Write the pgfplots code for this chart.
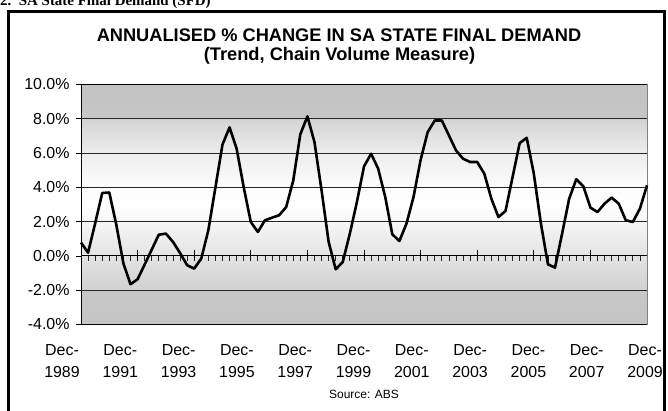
\documentclass[border=0pt]{standalone}
\usepackage{fontspec}
\setmainfont{Liberation Sans}
\newfontfamily\serifb{Liberation Serif}
\usepackage{pgfplots}
\pgfplotsset{compat=1.18}
\pgfdeclareverticalshading{bgshade}{100bp}{%
gray(0bp)=(0.77); gray(25bp)=(0.77); gray(32.1bp)=(0.78); gray(32.2bp)=(0.82);
gray(39.29bp)=(0.89); gray(46.43bp)=(0.965); gray(50bp)=(1); gray(53.57bp)=(0.99);
gray(60.71bp)=(0.93); gray(67.8bp)=(0.83); gray(67.9bp)=(0.775); gray(75bp)=(0.765); gray(100bp)=(0.765)}
\begin{document}
\begin{tikzpicture}[x=1bp,y=1bp]
\useasboundingbox (0,0) rectangle (668,410);
\clip (0,0) rectangle (668,410);
\fill[white] (0,0) rectangle (668,410);
\node[anchor=base west, inner sep=0pt, font=\serifb\bfseries\fontsize{15}{18}\selectfont] at (0,404) {2.\ \ SA State Final Demand (SFD)};
\draw[line width=2.5bp] (8.5,-20) rectangle (664.5,398.5);
\node[anchor=base, inner sep=0pt, font=\bfseries\fontsize{18.3}{21}\selectfont] at (339,368.5) {ANNUALISED \% CHANGE IN SA STATE FINAL DEMAND};
\node[anchor=base, inner sep=0pt, font=\bfseries\fontsize{18.3}{21}\selectfont] at (339.5,349.5) {(Trend, Chain Volume Measure)};
\node[anchor=base, inner sep=0pt, font=\fontsize{12}{15}\selectfont] at (364,11.5) {Source: ABS};
\begin{axis}[
  at={(81bp,85.5bp)}, anchor=south west,
  scale only axis, width=566bp, height=240bp,
  xmin=0, xmax=80, ymin=-4, ymax=10,
  axis background/.style={shade, shading=bgshade},
  axis line style={black, line width=1bp},
  ymajorgrids, grid style={black!85, line width=0.9bp},
  ytick={-4,-2,0,2,4,6,8,10},
  yticklabels={-4.0\%,-2.0\%,0.0\%,2.0\%,4.0\%,6.0\%,8.0\%,10.0\%},
  ytick pos=left, tick align=outside, major tick length=5bp,
  ytick style={black, line width=0.8bp},
  xtick={0,8,...,80},
  xticklabels={{Dec-\\1989},{Dec-\\1991},{Dec-\\1993},{Dec-\\1995},{Dec-\\1997},{Dec-\\1999},{Dec-\\2001},{Dec-\\2003},{Dec-\\2005},{Dec-\\2007},{Dec-\\2009}},
  xtick style={draw=none},
  xticklabel style={align=center, font=\fontsize{16}{21.5}\selectfont, yshift=-12bp, xshift=\ticknum*1.7bp-19bp},
  yticklabel style={font=\fontsize{16}{19}\selectfont, xshift=-3bp},
  clip=false,
]
\draw[line width=1bp] (axis cs:0,0) -- (axis cs:80,0);
\pgfplotsinvokeforeach{0,...,80}{\draw[line width=0.8bp, black!85] (axis cs:#1,0) -- ([yshift=-5bp]axis cs:#1,0);}
\pgfplotsinvokeforeach{0,8,...,80}{\draw[line width=0.8bp] ([yshift=5.5bp]axis cs:#1,0) -- ([yshift=-5.5bp]axis cs:#1,0);}
\draw[line width=1bp, gray] (axis cs:80,-4) -- (axis cs:80,10);
\addplot[black, line width=2.6bp, line join=round] coordinates {
(0,0.78) (1,0.19) (2,1.9) (3,3.67) (4,3.7) (5,1.8) (6,-0.45) (7,-1.65) (8,-1.36) (9,-0.5)
(10,0.37) (11,1.24) (12,1.3) (13,0.82) (14,0.17) (15,-0.54) (16,-0.74) (17,-0.15) (18,1.5) (19,4.0)
(20,6.5) (21,7.5) (22,6.25) (23,4.0) (24,1.98) (25,1.4) (26,2.08) (27,2.23) (28,2.37) (29,2.85)
(30,4.4) (31,7.1) (32,8.14) (33,6.64) (34,3.83) (35,0.82) (36,-0.78) (37,-0.35) (38,1.3) (39,3.15)
(40,5.22) (41,5.96) (42,5.09) (43,3.44) (44,1.26) (45,0.87) (46,1.88) (47,3.44) (48,5.6) (49,7.22)
(50,7.9) (51,7.9) (52,7.03) (53,6.16) (54,5.67) (55,5.48) (56,5.48) (57,4.8) (58,3.34) (59,2.27)
(60,2.62) (61,4.6) (62,6.58) (63,6.89) (64,4.8) (65,1.9) (66,-0.49) (67,-0.68) (68,1.3) (69,3.34)
(70,4.47) (71,4.06) (72,2.82) (73,2.56) (74,3.05) (75,3.4) (76,3.05) (77,2.08) (78,1.98) (79,2.76)
(80,4.12)};
\end{axis}
\end{tikzpicture}
\end{document}
